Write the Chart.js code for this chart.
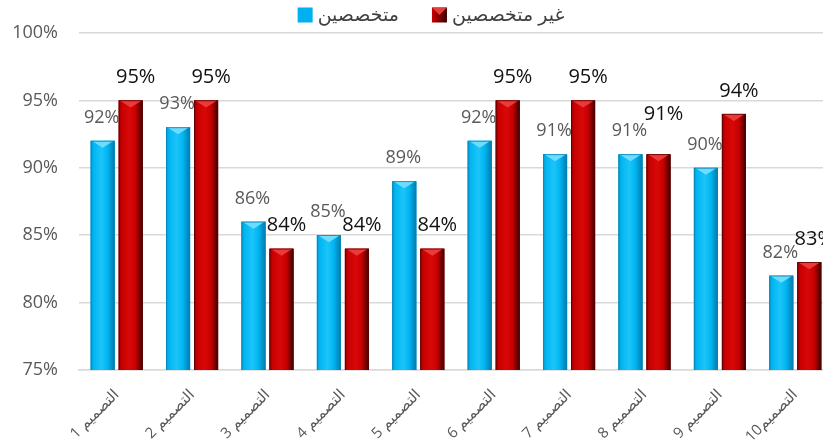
<!DOCTYPE html>
<html>
<head>
<meta charset="utf-8">
<script src="https://cdn.jsdelivr.net/npm/chart.js@4/dist/chart.umd.min.js"></script>
<style>
html,body{margin:0;padding:0;background:#fff;overflow:hidden;}
#wrap{width:870px;height:448px;}
</style>
</head>
<body>
<div id="wrap"><canvas id="c" dir="rtl" width="870" height="448"></canvas></div>
<script>
const categories = ["التصميم 1","التصميم 2","التصميم 3","التصميم 4","التصميم 5","التصميم 6","التصميم 7","التصميم 8","التصميم 9","التصميم10"];
const seriesNames = ["متخصصين","غير متخصصين"];
const specialists = [92,93,86,85,89,92,91,91,90,82];
const nonSpecialists = [95,95,84,84,84,95,95,91,94,83];
const yTicks = [75,80,85,90,95,100];

const FONT = "'Open Sans','DejaVu Sans',sans-serif";
const palettes = [
  {solid:'#00b0f0', edgeL:'#0a94c8', main:'#00b6f2', light:'#1cc4f8', edgeR:'#0378a8', top:'#6fdcff', bottom:'rgba(0,60,100,0.25)', stroke:'#0688b8'},
  {solid:'#c00000', edgeL:'#8a0000', main:'#c80000', light:'#d80808', edgeR:'#3a0000', top:'#ec3a3a', bottom:'rgba(40,0,0,0.35)', stroke:'#5a0000'}
];

const bevelPlugin = {
  id:'bevel',
  afterDatasetsDraw(chart){
    const ctx = chart.ctx;
    const area = chart.chartArea;
    ctx.save();
    ctx.beginPath();
    ctx.rect(area.left, area.top - 2, area.right - area.left, area.bottom - area.top + 2);
    ctx.clip();
    chart.data.datasets.forEach((ds, di) => {
      const meta = chart.getDatasetMeta(di);
      const p = palettes[di];
      meta.data.forEach(bar => {
        const {x, y, base, width} = bar.getProps(['x','y','base','width'], true);
        const l = x - width/2, r = x + width/2;
        const g = ctx.createLinearGradient(l, 0, r, 0);
        g.addColorStop(0, p.edgeL);
        g.addColorStop(0.12, p.main);
        g.addColorStop(0.45, p.light);
        g.addColorStop(0.7, p.main);
        g.addColorStop(1, p.edgeR);
        ctx.fillStyle = g;
        ctx.fillRect(l, y, width, base - y);
        ctx.beginPath();
        ctx.moveTo(l + 1, y);
        ctx.lineTo(r - 1, y);
        ctx.lineTo(x, y + 7);
        ctx.closePath();
        ctx.fillStyle = p.top;
        ctx.fill();
        ctx.beginPath();
        ctx.moveTo(l + 1, base);
        ctx.lineTo(r - 1, base);
        ctx.lineTo(x, base - 6);
        ctx.closePath();
        ctx.fillStyle = p.bottom;
        ctx.fill();
        ctx.strokeStyle = p.stroke;
        ctx.lineWidth = 0.8;
        ctx.strokeRect(l + 0.4, y + 0.4, width - 0.8, base - y - 0.8);
      });
    });
    ctx.restore();

    ctx.save();
    ctx.textAlign = 'center';
    ctx.textBaseline = 'middle';
    const blueMeta = chart.getDatasetMeta(0);
    chart.data.datasets.forEach((ds, di) => {
      const meta = chart.getDatasetMeta(di);
      ctx.font = (di === 0 ? '18px ' : '20px ') + FONT;
      ctx.fillStyle = di === 0 ? '#595959' : '#111111';
      meta.data.forEach((bar, i) => {
        const v = ds.data[i];
        let ly = bar.y - 23;
        if (di === 1) {
          const by = blueMeta.data[i].y - 23;
          if (Math.abs(by - ly) < 8) ly = by - 17; // avoid crowding the neighbour label
        }
        ctx.fillText(v + '%', bar.x + (di === 0 ? -1 : 5), ly);
      });
    });
    ctx.restore();
  }
};

const legendPlugin = {
  id:'customLegend',
  afterDraw(chart){
    const ctx = chart.ctx;
    ctx.save();
    ctx.font = '19px ' + FONT;
    ctx.textBaseline = 'middle';
    ctx.textAlign = 'left';
    const box = 15, gap = 5, itemGap = 33;
    const widths = chart.data.datasets.map(d => ctx.measureText(d.label).width);
    const total = widths.reduce((a,w)=>a + box + gap + w, 0) + itemGap * (widths.length - 1);
    let x = chart.width / 2 - total / 2 - 4;
    const cy = 15;
    chart.data.datasets.forEach((d, i) => {
      const p = palettes[i];
      const g = ctx.createLinearGradient(x, 0, x + box, 0);
      g.addColorStop(0, p.main); g.addColorStop(1, p.edgeR);
      ctx.fillStyle = i === 0 ? p.solid : g;
      ctx.fillRect(x, cy - box/2, box, box);
      if (i === 1) {
        ctx.beginPath();
        ctx.moveTo(x, cy - box/2); ctx.lineTo(x + box, cy - box/2); ctx.lineTo(x + box/2, cy);
        ctx.closePath(); ctx.fillStyle = p.top; ctx.fill();
      }
      x += box + gap;
      ctx.fillStyle = '#404040';
      ctx.fillText(d.label, x, cy + 1);
      x += widths[i] + itemGap;
    });
    ctx.restore();
  }
};

new Chart(document.getElementById('c'), {
  type:'bar',
  data:{
    labels: categories,
    datasets:[
      {label: seriesNames[0], data: specialists, backgroundColor: palettes[0].solid, categoryPercentage:0.743, barPercentage:0.857},
      {label: seriesNames[1], data: nonSpecialists, backgroundColor: palettes[1].solid, categoryPercentage:0.743, barPercentage:0.857}
    ]
  },
  options:{
    responsive:false,
    animation:false,
    devicePixelRatio:1,
    layout:{padding:{top:33, left:0, right:0, bottom:0}},
    plugins:{legend:{display:false}, tooltip:{enabled:false}},
    scales:{
      x:{
        grid:{display:false, drawTicks:false},
        border:{display:true, color:'#d9d9d9', width:1.5},
        ticks:{color:'#595959', font:{size:15, family:FONT}, minRotation:45, maxRotation:45, padding:16, autoSkip:false},
        afterFit(s){ s.height = 78; }
      },
      y:{
        min: yTicks[0], max: yTicks[yTicks.length-1],
        afterBuildTicks(s){ s.ticks = yTicks.map(v => ({value:v})); },
        grid:{color:'#d9d9d9', lineWidth:1.5, drawTicks:false},
        border:{display:false},
        ticks:{color:'#595959', font:{size:18, family:FONT}, padding:21, callback:v => v + '%'},
        afterFit(s){ s.width = 79; }
      },
      yR:{
        position:'right', display:true, min:0, max:1,
        grid:{display:false, drawTicks:false}, border:{display:false},
        ticks:{display:false},
        afterFit(s){ s.width = 37; }
      }
    }
  },
  plugins:[bevelPlugin, legendPlugin]
});
</script>
</body>
</html>
